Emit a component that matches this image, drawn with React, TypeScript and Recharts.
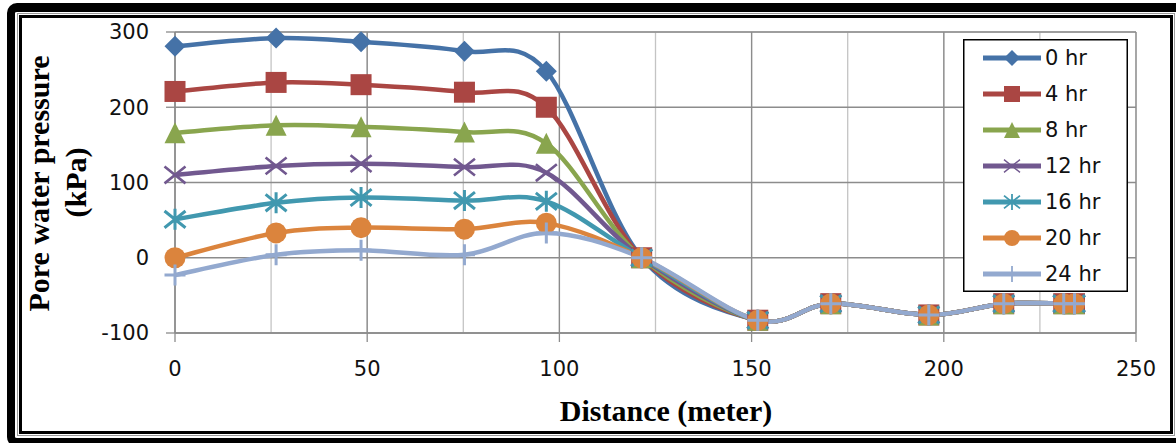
import React from 'react';
import { LineChart, Line, XAxis, YAxis, CartesianGrid, Legend } from 'recharts';

// Distance along the section (m) and pore water pressure (kPa) per time step
const distance = [0, 26.3, 48.4, 75.3, 96.6, 121.4, 151.6, 170.6, 196.1, 215.6, 231.2, 234];
const hr0 = [281, 292, 287, 274.5, 248, 0, -83, -61, -76, -61, -61, -61];
const hr4 = [221, 233, 230, 220, 200, 0, -83, -61, -76, -61, -61, -61];
const hr8 = [166, 176, 174, 167, 152, 0, -83, -61, -76, -61, -61, -61];
const hr12 = [110, 122, 125, 120.5, 113, 0, -83, -61, -76, -61, -61, -61];
const hr16 = [51, 73, 80, 76, 75, 0, -83, -61, -76, -61, -61, -61];
const hr20 = [0, 33, 40, 38, 46, 0, -83, -61, -76, -61, -61, -61];
const hr24 = [-23, 4, 10, 4, 33, 0, -83, -61, -76, -61, -61, -61];

const seriesNames = ['0 hr', '4 hr', '8 hr', '12 hr', '16 hr', '20 hr', '24 hr'];
const seriesValues = [hr0, hr4, hr8, hr12, hr16, hr20, hr24];
const seriesColors = ['#4572A7', '#AA4643', '#89A54E', '#71588F', '#4198AF', '#DB843D', '#93A9CF'];
const seriesMarkers = ['diamond', 'square', 'triangle', 'x', 'star', 'circle', 'plus'];

const xTicks = [0, 50, 100, 150, 200, 250];
const xMinorTicks = [0, 25, 50, 75, 100, 125, 150, 175, 200, 225, 250];
const yTicks = [-100, 0, 100, 200, 300];
const yMinorTicks = [-100, -50, 0, 50, 100, 150, 200, 250, 300];

const rows = distance.map((x, i) => {
    const row: Record<string, number> = { x };
    seriesNames.forEach((name, s) => {
        row[name] = seriesValues[s][i];
    });
    return row;
});

const TICK_FONT = '"DejaVu Sans", sans-serif';
const TITLE_FONT = '"Liberation Serif", "Times New Roman", serif';

// Excel-style smoothed line (Catmull-Rom through the points)
function excelSmooth(context: any) {
    let pts: number[][] = [];
    return {
        areaStart() {},
        areaEnd() {},
        lineStart() {
            pts = [];
        },
        point(x: number, y: number) {
            pts.push([x, y]);
        },
        lineEnd() {
            if (!pts.length) return;
            context.moveTo(pts[0][0], pts[0][1]);
            for (let i = 0; i < pts.length - 1; i++) {
                const p0 = pts[Math.max(0, i - 1)];
                const p1 = pts[i];
                const p2 = pts[i + 1];
                const p3 = pts[Math.min(pts.length - 1, i + 2)];
                context.bezierCurveTo(
                    p1[0] + (p2[0] - p0[0]) / 6,
                    p1[1] + (p2[1] - p0[1]) / 6,
                    p2[0] - (p3[0] - p1[0]) / 6,
                    p2[1] - (p3[1] - p1[1]) / 6,
                    p2[0],
                    p2[1]
                );
            }
        },
    };
}

const Marker = ({ kind, cx, cy, color, r, thin }: any) => {
    if (cx == null || cy == null) return null;
    const sw = thin ? 1.4 : 2.6;
    switch (kind) {
        case 'diamond':
            return <polygon points={`${cx},${cy - r} ${cx + r},${cy} ${cx},${cy + r} ${cx - r},${cy}`} fill={color} />;
        case 'square':
            return <rect x={cx - r} y={cy - r} width={2 * r} height={2 * r} fill={color} />;
        case 'triangle':
            return <polygon points={`${cx},${cy - r} ${cx + r},${cy + r} ${cx - r},${cy + r}`} fill={color} />;
        case 'circle':
            return <circle cx={cx} cy={cy} r={r} fill={color} />;
        case 'x':
            return (
                <path
                    d={`M${cx - r},${cy - r * 0.8}L${cx + r},${cy + r * 0.8}M${cx - r},${cy + r * 0.8}L${cx + r},${cy - r * 0.8}`}
                    stroke={color}
                    strokeWidth={sw}
                    fill="none"
                />
            );
        case 'star':
            return (
                <path
                    d={`M${cx - r},${cy - r * 0.8}L${cx + r},${cy + r * 0.8}M${cx - r},${cy + r * 0.8}L${cx + r},${cy - r * 0.8}M${cx},${cy - r}L${cx},${cy + r}`}
                    stroke={color}
                    strokeWidth={sw + 0.4}
                    fill="none"
                />
            );
        case 'plus':
            return (
                <path
                    d={`M${cx},${cy - r}L${cx},${cy + r}M${cx - r},${cy}L${cx + r},${cy}`}
                    stroke={color}
                    strokeWidth={sw + 0.4}
                    fill="none"
                />
            );
        default:
            return null;
    }
};

const LegendBox = () => (
    <svg width={165} height={253} style={{ display: 'block' }}>
        <rect x={0.75} y={0.75} width={163.5} height={251.5} fill="#fff" stroke="#000" strokeWidth={1.5} />
        {seriesNames.map((name, i) => {
            const y = 19 + i * 36;
            return (
                <g key={name}>
                    <line x1={20} x2={78} y1={y} y2={y} stroke={seriesColors[i]} strokeWidth={5} />
                    <Marker kind={seriesMarkers[i]} cx={49} cy={y} r={8} color={seriesColors[i]} thin />
                    <text x={82} y={y} dominantBaseline="central" fontFamily={TICK_FONT} fontSize={21} fill="#111">
                        {name}
                    </text>
                </g>
            );
        })}
    </svg>
);

const YTitle = ({ viewBox }: any) => {
    const cy = viewBox ? viewBox.y + viewBox.height / 2 : 183;
    return (
        <g fontFamily={TITLE_FONT} fontWeight="bold" fontSize={30} fill="#000">
            <text transform={`translate(38, ${cy + 1}) rotate(-90)`} textAnchor="middle" dominantBaseline="central">
                Pore water pressure
            </text>
            <text transform={`translate(75, ${cy}) rotate(-90)`} textAnchor="middle" dominantBaseline="central">
                (kPa)
            </text>
        </g>
    );
};

const XTitle = () => (
    <text x={666} y={421} textAnchor="middle" fontFamily={TITLE_FONT} fontWeight="bold" fontSize={30} fill="#000">
        Distance (meter)
    </text>
);

export default function App() {
    return (
        <div style={{ position: 'absolute', left: 0, top: 0, width: 1176, height: 443, overflow: 'hidden', background: '#fff' }}>
            {/* outer heavy frame */}
            <div
                style={{
                    position: 'absolute',
                    left: 7,
                    top: 3,
                    width: 1200,
                    height: 444,
                    boxSizing: 'border-box',
                    borderStyle: 'solid',
                    borderColor: '#000',
                    borderWidth: '9px 9px 9px 8px',
                    borderRadius: 10,
                }}
            />
            {/* inner thin frame */}
            <div
                style={{
                    position: 'absolute',
                    left: 17,
                    top: 13,
                    width: 1158,
                    height: 423,
                    boxSizing: 'border-box',
                    border: '1px solid #9a9a9a',
                    padding: 1,
                }}
            >
                <div style={{ width: '100%', height: '100%', boxSizing: 'border-box', border: '3px solid #000' }} />
            </div>
            <div style={{ position: 'absolute', left: 0, top: 0 }}>
                <LineChart width={1176} height={443} data={rows} margin={{ top: 32, right: 40, bottom: 50, left: 115 }}>
                    <XAxis xAxisId="minor" dataKey="x" type="number" domain={[0, 250]} ticks={xMinorTicks} hide />
                    <YAxis yAxisId="minor" type="number" domain={[-100, 300]} ticks={yMinorTicks} hide />
                    <CartesianGrid xAxisId="minor" yAxisId="minor" stroke="#c4c4c4" strokeWidth={1.3} />
                    <CartesianGrid stroke="#8c8c8c" strokeWidth={1.3} />
                    <XAxis
                        dataKey="x"
                        type="number"
                        domain={[0, 250]}
                        ticks={xTicks}
                        height={60}
                        axisLine={{ stroke: '#8c8c8c', strokeWidth: 1.3 }}
                        tickLine={{ stroke: '#8c8c8c', strokeWidth: 1.3 }}
                        tickSize={9}
                        tickMargin={19}
                        tick={{ fontFamily: TICK_FONT, fontSize: 21, fill: '#111' }}
                        label={<XTitle />}
                    />
                    <YAxis
                        type="number"
                        domain={[-100, 300]}
                        ticks={yTicks}
                        width={60}
                        axisLine={{ stroke: '#8c8c8c', strokeWidth: 1.3 }}
                        tickLine={{ stroke: '#8c8c8c', strokeWidth: 1.3 }}
                        tickSize={9}
                        tickMargin={17}
                        tick={{ fontFamily: TICK_FONT, fontSize: 21, fill: '#111' }}
                        label={<YTitle />}
                    />
                    {seriesNames.map((name, i) => (
                        <Line
                            key={name}
                            dataKey={name}
                            type={excelSmooth as any}
                            stroke={seriesColors[i]}
                            strokeWidth={4.5}
                            isAnimationActive={false}
                            dot={(p: any) => (
                                <Marker
                                    key={`${name}-${p.index}`}
                                    kind={seriesMarkers[i]}
                                    cx={p.cx}
                                    cy={p.cy}
                                    r={10.5}
                                    color={seriesColors[i]}
                                />
                            )}
                            activeDot={false}
                        />
                    ))}
                    <Legend
                        layout="vertical"
                        align="center"
                        verticalAlign="middle"
                        content={<LegendBox />}
                        wrapperStyle={{ position: 'absolute', left: 963, top: 39, width: 165, height: 253 }}
                    />
                </LineChart>
            </div>
        </div>
    );
}
